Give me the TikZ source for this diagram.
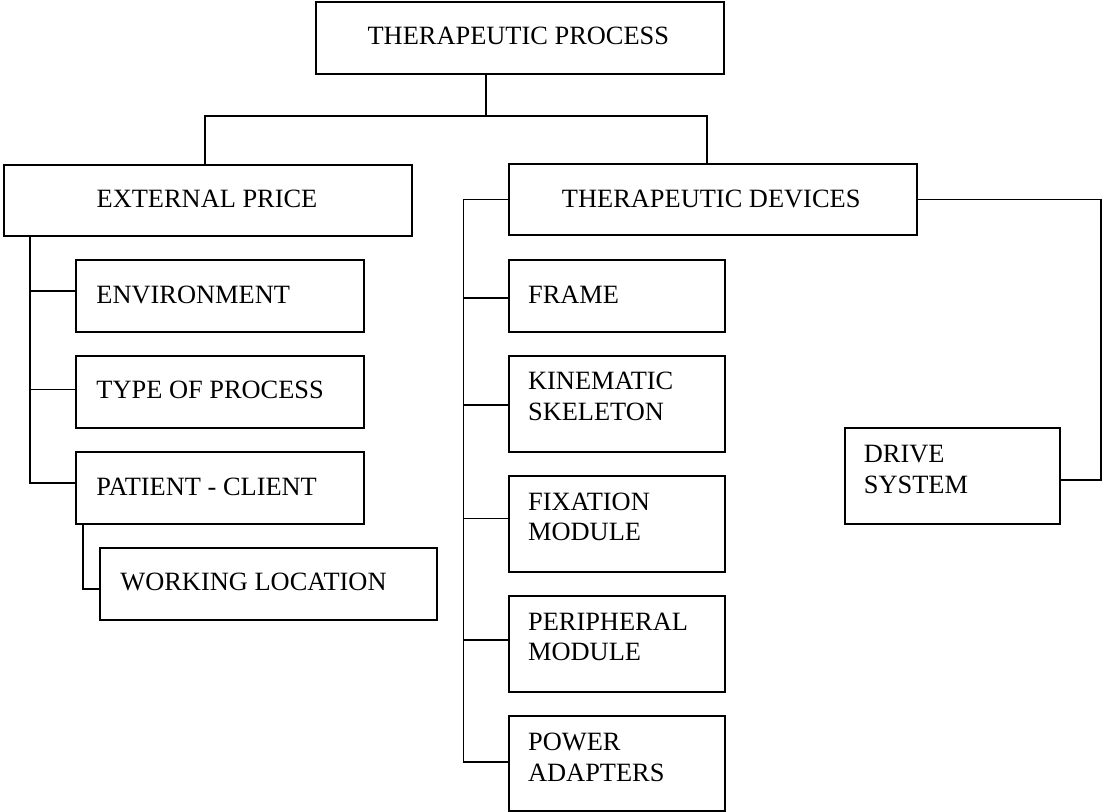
\documentclass[tikz,border=0pt]{standalone}
\usepackage{fontspec}
\setmainfont{Liberation Serif}
\usetikzlibrary{calc}
\begin{document}
\begin{tikzpicture}[x=0.5pt,y=-0.5pt,
  box/.style={draw, line width=1pt, rectangle, inner sep=0pt, anchor=north west},
  wire/.style={draw, line width=0.8pt},
  txt/.style={inner sep=0pt, font=\fontsize{13.2}{15.35}\selectfont, align=left},
]
\useasboundingbox (0,0) rectangle (1102,811);

% boxes
\node[box, minimum width=204pt, minimum height=36pt]    (proc)  at (315,1)     {};
\node[box, minimum width=204pt, minimum height=35.5pt]  (ext)   at (3,163.5)   {};
\node[box, minimum width=204pt, minimum height=35.5pt]  (dev)   at (507.5,163) {};
\node[box, minimum width=144pt, minimum height=36pt]    (env)   at (75,259)    {};
\node[box, minimum width=144pt, minimum height=36pt]    (type)  at (75,355)    {};
\node[box, minimum width=144pt, minimum height=36pt]    (pat)   at (75,451)    {};
\node[box, minimum width=168.25pt, minimum height=36pt] (work)  at (99,547)    {};
\node[box, minimum width=108pt, minimum height=36pt]    (frame) at (507.5,259) {};
\node[box, minimum width=108pt, minimum height=48pt]    (kin)   at (507.5,355) {};
\node[box, minimum width=108pt, minimum height=48pt]    (fix)   at (507.5,475) {};
\node[box, minimum width=108pt, minimum height=48pt]    (peri)  at (507.5,595) {};
\node[box, minimum width=108pt, minimum height=47.25pt] (power) at (507.5,715) {};
\node[box, minimum width=107.75pt, minimum height=47.75pt] (drive) at (843.5,427) {};

% labels (two-line labels are placed by the baseline of their last line)
\node[txt, anchor=base] (procT) at (518.3,44) {THERAPEUTIC PROCESS};
\node[txt, anchor=base] (extT)  at (207,207.3) {EXTERNAL PRICE};
\node[txt, anchor=base] (devT)  at (711.2,207.3) {THERAPEUTIC DEVICES};
\node[txt, anchor=base west] (envT)   at ($(env.north west)+(21,44.3)$)  {ENVIRONMENT};
\node[txt, anchor=base west] (typeT)  at ($(type.north west)+(21,43.3)$) {TYPE OF PROCESS};
\node[txt, anchor=base west] (patT)   at ($(pat.north west)+(21,44)$)   {PATIENT - CLIENT};
\node[txt, anchor=base west] (workT)  at ($(work.north west)+(21,43.7)$) {WORKING LOCATION};
\node[txt, anchor=base west] (frameT) at ($(frame.north west)+(20.2,44.3)$) {FRAME};
\node[txt, anchor=base west] (kinT)   at ($(kin.north west)+(20.2,65)$)     {KINEMATIC\\SKELETON};
\node[txt, anchor=base west] (fixT)   at ($(fix.north west)+(20.2,65.7)$)   {FIXATION\\MODULE};
\node[txt, anchor=base west] (periT)  at ($(peri.north west)+(20.2,65.7)$)  {PERIPHERAL\\MODULE};
\node[txt, anchor=base west] (powerT) at ($(power.north west)+(20.2,66.5)$) {POWER\\ADAPTERS};
\node[txt, anchor=base west] (driveT) at ($(drive.north west)+(20,66.3)$)   {DRIVE\\SYSTEM};

% top branching
\coordinate (hub)  at (485.7,116);
\coordinate (hubL) at (205,116);
\coordinate (hubR) at (706.7,116);
\draw[wire] (proc.south -| hub) -- (hub);
\draw[wire] (ext.north -| hubL) -- (hubL) -- (hubR) -- (dev.north -| hubR);

% left spine
\coordinate (l1) at (30,290.7);
\coordinate (l2) at (30,389.3);
\coordinate (l3) at (30,482.7);
\draw[wire] (ext.south -| l1) -- (l3) -- (pat.west |- l3);
\draw[wire] (l1) -- (env.west |- l1);
\draw[wire] (l2) -- (type.west |- l2);
\coordinate (pw) at (82.7,589);
\draw[wire] (pat.south -| pw) -- (pw) -- (work.west |- pw);

% right spine
\coordinate (r0) at (463.3,199.3);
\coordinate (r1) at (463.3,297.7);
\coordinate (r2) at (463.3,405);
\coordinate (r3) at (463.3,518.3);
\coordinate (r4) at (463.3,640);
\coordinate (r5) at (463.3,761.7);
\draw[wire] (dev.west |- r0) -- (r0) -- (r5) -- (power.west |- r5);
\draw[wire] (r1) -- (frame.west |- r1);
\draw[wire] (r2) -- (kin.west |- r2);
\draw[wire] (r3) -- (fix.west |- r3);
\draw[wire] (r4) -- (peri.west |- r4);

% drive system link
\coordinate (d1) at (1100.8,199.3);
\coordinate (d2) at (1100.8,480);
\draw[wire] (dev.east |- d1) -- (d1) -- (d2) -- (drive.east |- d2);
\end{tikzpicture}
\end{document}
